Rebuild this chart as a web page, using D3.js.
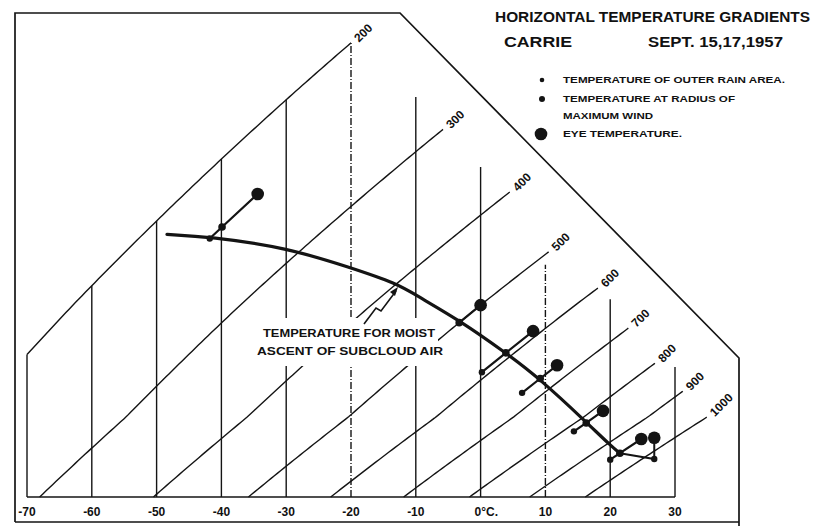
<!DOCTYPE html>
<html><head><meta charset="utf-8">
<script src="https://cdn.jsdelivr.net/npm/d3@7"></script>
<style>
body{margin:0;background:#fff}
svg{display:block}
text{font-family:"Liberation Sans",Arial,sans-serif;font-weight:bold;fill:#111}
</style>
</head><body><svg id="c" width="813" height="526"></svg>
<script>
// ---------- data ----------
const tempTicks = [-70,-60,-50,-40,-30,-20,-10,0,10,20,30];
const tempTickLabels = ["-70","-60","-50","-40","-30","-20","-10","0°C.","10","20","30"];
const isothermTopP = [200,200,200,200,200,200,262,355,513,631,837];
const isobarP = [200,300,400,500,600,700,800,900,1000];
const isobarLabels = ["200","300","400","500","600","700","800","900","1000"];
const isobarEndT = [-20,-5.8,4.5,10.5,18.1,22.8,26.9,31.2,34.9];

const moistAscentT = [-48.4,-41.8,-29.9,-20.2,-12.9,-9.4,-3.3,3.9,9.2,16.3,20.3,21.5];
const moistAscentP = [212,236,289,348,400,434,497,590,672,815,916,945];

const levelP     = [237,500,590,671,817,945];
const outerRainT = [-41.8,null,0.2,6.4,14.4,20.0];
const rmwT       = [-39.9,-3.3,3.9,9.2,16.3,21.5];
const eyeT       = [-34.4,0.0,8.1,11.8,18.9,24.8];

const surface2T = [21.5,26.8,26.8];
const surface2P = [945,1022,964];

const legendItems = ["TEMPERATURE OF OUTER RAIN AREA.","TEMPERATURE AT RADIUS OF","MAXIMUM WIND","EYE TEMPERATURE."];

// ---------- scales ----------
const KAPPA = 0.2857;
const thetaBottom = 289.3;
const x = d3.scaleLinear().domain([-70,30]).range([27,675]);
const yTheta = d3.scaleLog().domain([thetaBottom,308.1,333,400.9]).range([497,417,305,43]);
const theta = (T,p) => (T+273.15)*Math.pow(1000/p,KAPPA);
const Y = (T,p) => yTheta(theta(T,p));
const ink = "#141414";

const svg = d3.select("#c");
svg.append("rect").attr("width",813).attr("height",526).attr("fill","#fff");

// outer frame
const F = {l:15,t:13,r:739,b:522,dx:400,dy:358};
svg.append("path")
  .attr("d",`M${F.l},${F.b}V${F.t}H${F.dx}L${F.r},${F.dy}V526M${F.l},${F.b}H${F.r}`)
  .attr("fill","none").attr("stroke",ink).attr("stroke-width",1.7);

const grid = svg.append("g").attr("stroke",ink).attr("fill","none").attr("stroke-width",1.4);

// isotherms
tempTicks.forEach((T,i)=>{
  grid.append("line")
    .attr("x1",x(T)).attr("x2",x(T))
    .attr("y1",yTheta(thetaBottom)).attr("y2",Y(T,isothermTopP[i]))
    .attr("stroke-dasharray",(T===-20||T===10)?"7,2,1,2":null);
});
// bottom axis line
grid.append("line").attr("x1",x(-70)).attr("x2",x(30))
  .attr("y1",yTheta(thetaBottom)).attr("y2",yTheta(thetaBottom)).attr("stroke-width",1.6);

// isobars
const lineXY = d3.line().x(d=>d[0]).y(d=>d[1]);
isobarP.forEach((p,i)=>{
  const tStart = Math.max(-70, thetaBottom*Math.pow(p/1000,KAPPA)-273.15);
  const tEnd = isobarEndT[i];
  const pts = d3.range(tStart,tEnd,0.5).concat([tEnd]).map(T=>[x(T),Y(T,p)]);
  grid.append("path").attr("d",lineXY(pts));
  const e = pts[pts.length-1];
  svg.append("text")
    .attr("transform",`translate(${e[0]+5},${e[1]-3}) rotate(-45)`)
    .attr("font-size",12).attr("dy","0.35em").text(isobarLabels[i]);
});

// annotation knockout and text
svg.append("rect").attr("x",250).attr("y",318).attr("width",188).attr("height",48).attr("fill","#fff");
svg.append("text").attr("x",263).attr("y",337).attr("font-size",11.5)
  .attr("textLength",172).attr("lengthAdjust","spacingAndGlyphs").text("TEMPERATURE FOR MOIST");
svg.append("text").attr("x",257).attr("y",355).attr("font-size",11.5)
  .attr("textLength",186).attr("lengthAdjust","spacingAndGlyphs").text("ASCENT OF SUBCLOUD AIR");
svg.append("path").attr("d","M364,324L376,308L381,311L396,291")
  .attr("fill","none").attr("stroke",ink).attr("stroke-width",1.6);
svg.append("path").attr("d","M398,287L390,292L395,296Z").attr("fill",ink);

// moist ascent curve
const curvePts = moistAscentT.map((T,i)=>[x(T),Y(T,moistAscentP[i])]);
svg.append("path").attr("d",d3.line().curve(d3.curveBasis)(curvePts))
  .attr("fill","none").attr("stroke",ink).attr("stroke-width",3.2).attr("stroke-linecap","round");

// groups
const gg = svg.append("g");
levelP.forEach((p,i)=>{
  const pts = [outerRainT[i],rmwT[i],eyeT[i]].filter(v=>v!==null).map(T=>[x(T),Y(T,p)]);
  gg.append("path").attr("d",lineXY(pts)).attr("fill","none").attr("stroke",ink).attr("stroke-width",2.2);
  if(outerRainT[i]!==null) gg.append("circle").attr("cx",x(outerRainT[i])).attr("cy",Y(outerRainT[i],p)).attr("r",3.2).attr("fill",ink);
  gg.append("circle").attr("cx",x(rmwT[i])).attr("cy",Y(rmwT[i],p)).attr("r",3.8).attr("fill",ink);
  gg.append("circle").attr("cx",x(eyeT[i])).attr("cy",Y(eyeT[i],p)).attr("r",6.3).attr("fill",ink);
});
const s2 = surface2T.map((T,i)=>[x(T),Y(T,surface2P[i])]);
gg.append("path").attr("d",lineXY(s2)).attr("fill","none").attr("stroke",ink).attr("stroke-width",2);
gg.append("circle").attr("cx",s2[1][0]).attr("cy",s2[1][1]).attr("r",3.2).attr("fill",ink);
gg.append("circle").attr("cx",s2[2][0]).attr("cy",s2[2][1]).attr("r",6.3).attr("fill",ink);

// tick labels
tempTicks.forEach((T,i)=>{
  const lab = tempTickLabels[i];
  svg.append("text").attr("x",lab.indexOf("°")>0?x(T)-6:x(T)).attr("y",516)
    .attr("text-anchor",lab.indexOf("°")>0?"start":"middle")
    .attr("font-size",12).text(lab);
});

// title
svg.append("text").attr("x",495).attr("y",22).attr("font-size",14)
  .attr("textLength",315).attr("lengthAdjust","spacingAndGlyphs").text("HORIZONTAL  TEMPERATURE  GRADIENTS");
svg.append("text").attr("x",504).attr("y",47).attr("font-size",14)
  .attr("textLength",68).attr("lengthAdjust","spacingAndGlyphs").text("CARRIE");
svg.append("text").attr("x",648).attr("y",47).attr("font-size",14)
  .attr("textLength",135).attr("lengthAdjust","spacingAndGlyphs").text("SEPT. 15,17,1957");

// legend
const legY = [83,102,119,137];
const legW = [222,172,90,119];
legendItems.forEach((t,i)=>{
  svg.append("text").attr("x",563).attr("y",legY[i]).attr("font-size",9.5)
    .attr("textLength",legW[i]).attr("lengthAdjust","spacingAndGlyphs").text(t);
});
svg.append("circle").attr("cx",542).attr("cy",80).attr("r",2.3).attr("fill",ink);
svg.append("circle").attr("cx",542).attr("cy",99).attr("r",3).attr("fill",ink);
svg.append("circle").attr("cx",541).attr("cy",134).attr("r",6.3).attr("fill",ink);
</script>
</body></html>
